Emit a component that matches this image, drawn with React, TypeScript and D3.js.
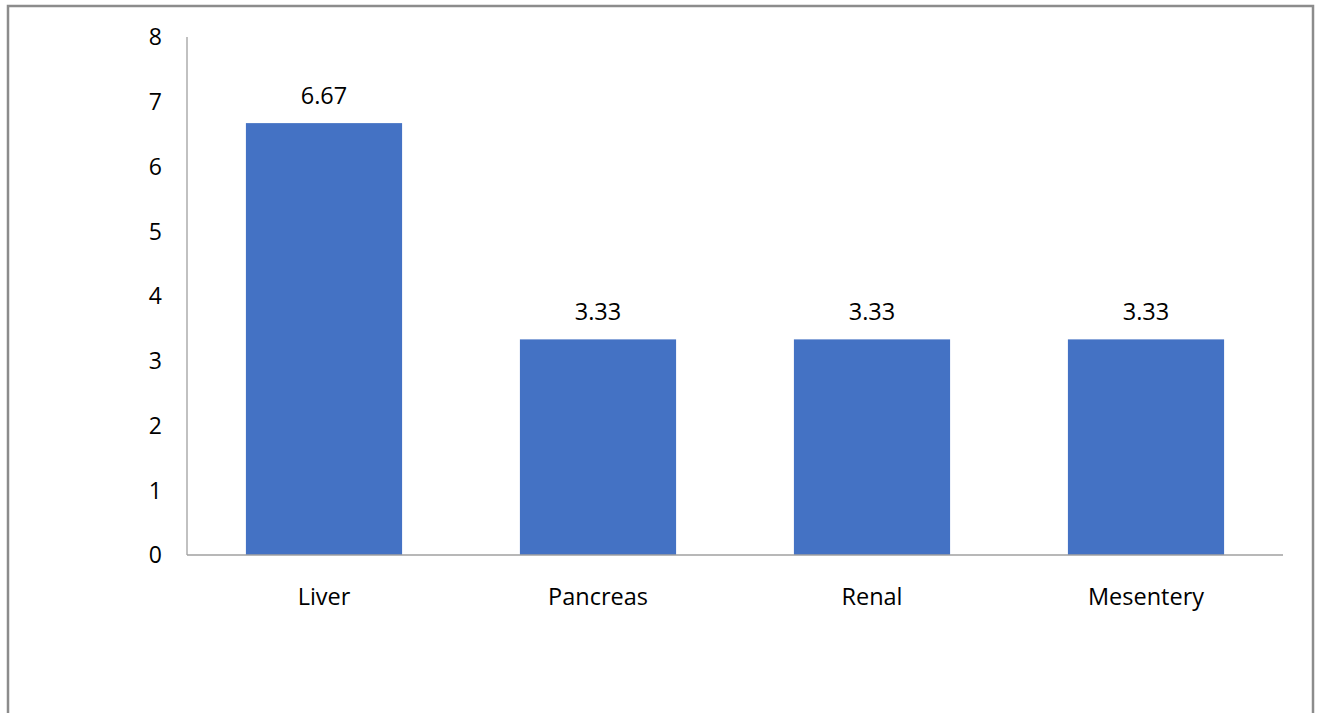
import React from "react";
import * as d3 from "d3";

const categories = ["Liver", "Pancreas", "Renal", "Mesentery"];
const values = [6.67, 3.33, 3.33, 3.33];
const valueLabels = ["6.67", "3.33", "3.33", "3.33"];
const yTicks = [0, 1, 2, 3, 4, 5, 6, 7, 8];

export default function App() {
  const W = 1318, H = 713;
  const left = 187, right = 1283, top = 37, bottom = 555;
  const x = d3.scaleBand<string>().domain(categories).range([left, right]).paddingInner(0.43).paddingOuter(0.215);
  const y = d3.scaleLinear().domain([0, 8]).range([bottom, top]);
  const font = "'Open Sans', Lato, sans-serif";
  const fsTick = 23;
  const fs = 23.5;
  return (
    <svg width={W} height={H} style={{ position: "absolute", left: 0, top: 0, background: "#fff" }}>
      <rect x={8} y={6} width={1305} height={H + 20} fill="none" stroke="#8c8c8c" strokeWidth={2.5} />
      <line x1={left} x2={left} y1={top} y2={bottom} stroke="#a0a0a0" strokeWidth={1.3} />
      {yTicks.map((t) => (
        <text key={t} x={162} y={y(t)} dy="0.36em" textAnchor="end" fontFamily={font} fontSize={fsTick} fill="#000">
          {t}
        </text>
      ))}
      {categories.map((c, i) => (
        <g key={c}>
          <rect x={x(c)} y={y(values[i])} width={x.bandwidth()} height={bottom - y(values[i])} fill="#4472c4" />
          <text x={(x(c) as number) + x.bandwidth() / 2} y={y(values[i]) - 19} textAnchor="middle" fontFamily={font} fontSize={fs} fill="#000">
            {valueLabels[i]}
          </text>
          <text x={(x(c) as number) + x.bandwidth() / 2} y={605} textAnchor="middle" fontFamily={font} fontSize={fs} fill="#000">
            {c}
          </text>
        </g>
      ))}
      <line x1={left} x2={right} y1={bottom} y2={bottom} stroke="#a0a0a0" strokeWidth={1.3} />
    </svg>
  );
}
